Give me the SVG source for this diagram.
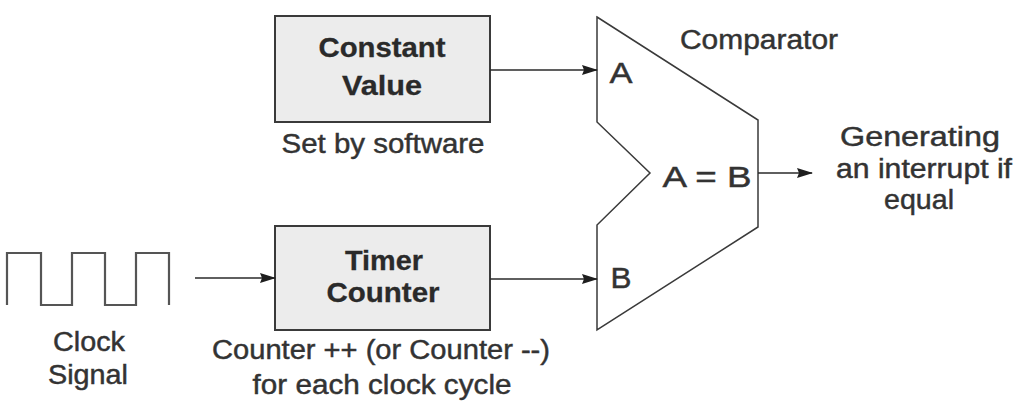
<svg xmlns="http://www.w3.org/2000/svg" width="1024" height="416" viewBox="0 0 1024 416">
<defs>
<marker id="arr" markerWidth="16" markerHeight="10" refX="15" refY="5" orient="auto" markerUnits="userSpaceOnUse">
<path d="M0,0 L16,5 L0,10 L2,5 Z" fill="#1e1e1e"/>
</marker>
<style>
.t{font-family:"Liberation Sans",Arial,sans-serif;font-size:27px;fill:#333;stroke:#333;stroke-width:0.45;text-anchor:middle}
.l{font-size:29px}
.b{font-family:"Liberation Sans",Arial,sans-serif;font-size:28px;font-weight:bold;fill:#2a2a2a;stroke:#2a2a2a;stroke-width:0.3;text-anchor:middle}
.box{fill:#ececec;stroke:#3a3a3a;stroke-width:2}
.ln{stroke:#2a2a2a;stroke-width:1.6;fill:none}
</style>
</defs>
<rect width="1024" height="416" fill="#ffffff"/>
<g id="constant">
<rect class="box" x="275" y="16" width="215" height="106"/>
<text class="b" x="382" y="57" textLength="127" lengthAdjust="spacingAndGlyphs">Constant</text>
<text class="b" x="382" y="95" textLength="80" lengthAdjust="spacingAndGlyphs">Value</text>
<text class="t" x="383" y="153" textLength="203" lengthAdjust="spacingAndGlyphs">Set by software</text>
</g>
<g id="timer">
<rect class="box" x="275" y="226" width="215" height="104"/>
<text class="b" x="384" y="270" textLength="78" lengthAdjust="spacingAndGlyphs">Timer</text>
<text class="b" x="383" y="302" textLength="113" lengthAdjust="spacingAndGlyphs">Counter</text>
<text class="t" x="381" y="359" textLength="338" lengthAdjust="spacingAndGlyphs">Counter ++ (or Counter --)</text>
<text class="t" x="382" y="394" textLength="259" lengthAdjust="spacingAndGlyphs">for each clock cycle</text>
</g>
<g id="clock">
<path d="M7,305 V253 H41 V305 H72 V253 H105 V305 H136 V253 H169 V305" fill="none" stroke="#555" stroke-width="2.2"/>
<text class="t" x="89" y="351" textLength="72" lengthAdjust="spacingAndGlyphs">Clock</text>
<text class="t" x="88" y="384" textLength="80" lengthAdjust="spacingAndGlyphs">Signal</text>
</g>
<g id="comparator">
<polygon points="597,17 758,120 758,227 597,330 597,225 650,173 597,122" fill="#fff" stroke="#3a3a3a" stroke-width="1.5"/>
<text class="t" x="759" y="49" textLength="158" lengthAdjust="spacingAndGlyphs">Comparator</text>
<text class="t l" x="621" y="83" textLength="23" lengthAdjust="spacingAndGlyphs">A</text>
<text class="t l" x="707" y="187" textLength="89" lengthAdjust="spacingAndGlyphs">A = B</text>
<text class="t l" x="621" y="288" textLength="21" lengthAdjust="spacingAndGlyphs">B</text>
</g>
<g id="output">
<text class="t" x="920" y="146" textLength="160" lengthAdjust="spacingAndGlyphs">Generating</text>
<text class="t" x="924" y="178" textLength="176" lengthAdjust="spacingAndGlyphs">an interrupt if</text>
<text class="t" x="919" y="209" textLength="70" lengthAdjust="spacingAndGlyphs">equal</text>
</g>
<g id="connectors">
<line class="ln" x1="490" y1="70" x2="597" y2="70" marker-end="url(#arr)"/>
<line class="ln" x1="490" y1="279" x2="597" y2="279" marker-end="url(#arr)"/>
<line class="ln" x1="195" y1="278" x2="275" y2="278" marker-end="url(#arr)"/>
<line class="ln" x1="758" y1="173" x2="812" y2="173" marker-end="url(#arr)"/>
</g>
</svg>
